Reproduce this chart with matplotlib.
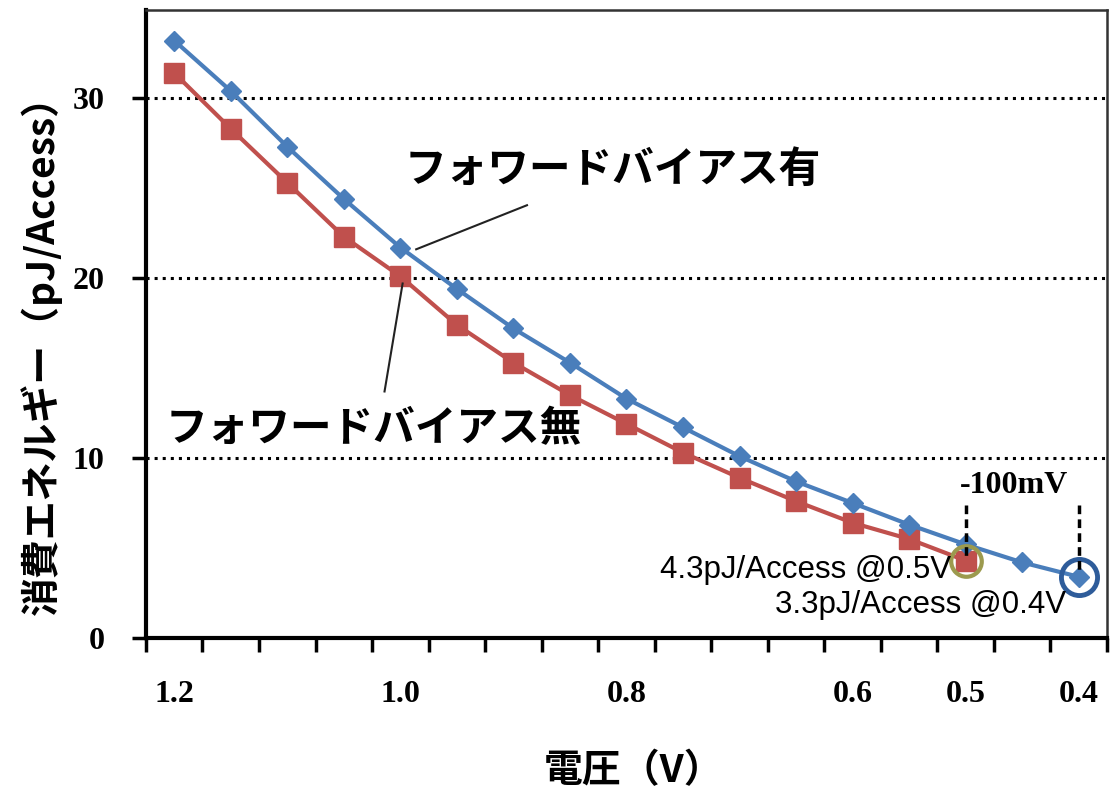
import numpy as np
import matplotlib
matplotlib.use("Agg")
import matplotlib.pyplot as plt

plt.rcParams['font.family'] = ['Noto Sans CJK JP', 'DejaVu Sans']

# data
voltage = [1.2, 1.15, 1.1, 1.05, 1.0, 0.95, 0.9, 0.85, 0.8, 0.75, 0.7, 0.65, 0.6, 0.55, 0.5, 0.45, 0.4]
energy_fb = [33.2, 30.4, 27.3, 24.4, 21.7, 19.4, 17.2, 15.3, 13.3, 11.7, 10.1, 8.7, 7.5, 6.3, 5.2, 4.2, 3.4]
voltage_nofb = [1.2, 1.15, 1.1, 1.05, 1.0, 0.95, 0.9, 0.85, 0.8, 0.75, 0.7, 0.65, 0.6, 0.55, 0.5]
energy_nofb = [31.4, 28.3, 25.3, 22.3, 20.1, 17.4, 15.3, 13.5, 11.9, 10.3, 8.9, 7.6, 6.4, 5.5, 4.3]
xtick_vals = [1.2, 1.0, 0.8, 0.6, 0.5, 0.4]
xtick_labels = ['1.2', '1.0', '0.8', '0.6', '0.5', '0.4']
ytick_vals = [0, 10, 20, 30]

blue = '#4A7EBB'
red = '#C0504D'

fig = plt.figure(figsize=(11.1, 7.98), dpi=100)
ax = fig.add_axes([0.1315, 0.2005, 0.8658, 0.787])

# grid
for yv in ytick_vals[1:]:
    ax.axhline(yv, color='black', lw=2.2, ls=':', zorder=1)

ax.plot(voltage_nofb, energy_nofb, color=red, lw=3, marker='s', ms=15,
        mec=red, mfc=red, zorder=3)
ax.plot(voltage, energy_fb, color=blue, lw=3, marker='D', ms=10.5,
        mec=blue, mfc=blue, zorder=4)

# highlight circles on end points
ax.plot(voltage_nofb[-1], energy_nofb[-1], 'o', ms=22, mfc='none', mec='#9C9A4E', mew=3, zorder=5)
ax.plot(voltage[-1], energy_fb[-1], 'o', ms=26, mfc='none', mec='#2E5C9A', mew=3.5, zorder=5)

# -100mV markers
ax.plot([0.5, 0.5], [7.4, 4.4], color='black', lw=2.5, ls=(0, (2.5, 1.5)), zorder=6)
ax.plot([0.4, 0.4], [7.4, 3.7], color='black', lw=2.5, ls=(0, (2.5, 1.5)), zorder=6)
ax.text(0.457, 8.5, '-100mV', fontsize=23, fontweight='bold', family='Liberation Serif',
        ha='center', va='center', zorder=7)

ax.text(0.5125, 3.8, '4.3pJ/Access @0.5V', fontsize=22.5, family='Liberation Sans',
        ha='right', va='center', zorder=7)
ax.text(0.411, 1.85, '3.3pJ/Access @0.4V', fontsize=22.5, family='Liberation Sans',
        ha='right', va='center', zorder=7)

# series labels with leader lines
ax.text(0.812, 26.0, 'フォワードバイアス有', fontsize=30, fontweight='bold',
        ha='center', va='center')
ax.plot([0.986, 0.888], [21.6, 24.05], color='#222222', lw=1.5, zorder=5)
ax.text(1.024, 11.6, 'フォワードバイアス無', fontsize=30, fontweight='bold',
        ha='center', va='center')
ax.plot([0.998, 1.014], [19.7, 13.7], color='#222222', lw=1.5, zorder=5)

ax.set_xlim(1.225, 0.379)
ax.set_ylim(0, 34.9)

ax.set_xticks(xtick_vals)
ax.set_xticklabels(xtick_labels, family='Liberation Serif', fontweight='bold', fontsize=23)
ax.set_xticks(np.arange(1.225, 0.37, -0.05), minor=True)
ax.tick_params(axis='x', which='major', length=0, pad=30)
ax.tick_params(axis='x', which='minor', length=10, width=2.5, direction='out')

ax.set_yticks(ytick_vals)
ax.set_yticklabels([str(v) for v in ytick_vals], family='Liberation Serif', fontweight='bold', fontsize=23)
ax.tick_params(axis='y', length=10, width=2.5, direction='out', pad=20)

for s in ['left', 'bottom']:
    ax.spines[s].set_linewidth(3)
    ax.spines[s].set_color('black')
for s in ['top', 'right']:
    ax.spines[s].set_linewidth(1.8)
    ax.spines[s].set_color('#333333')

ax.set_xlabel('電圧（V）', fontsize=28, fontweight='bold')
ax.xaxis.set_label_coords(0.507, -0.18)
ax.set_ylabel('消費エネルギー（pJ/Access）', fontsize=28, fontweight='bold')
ax.yaxis.set_label_coords(-0.087, 0.465)

fig.savefig('out.png', dpi=100)
